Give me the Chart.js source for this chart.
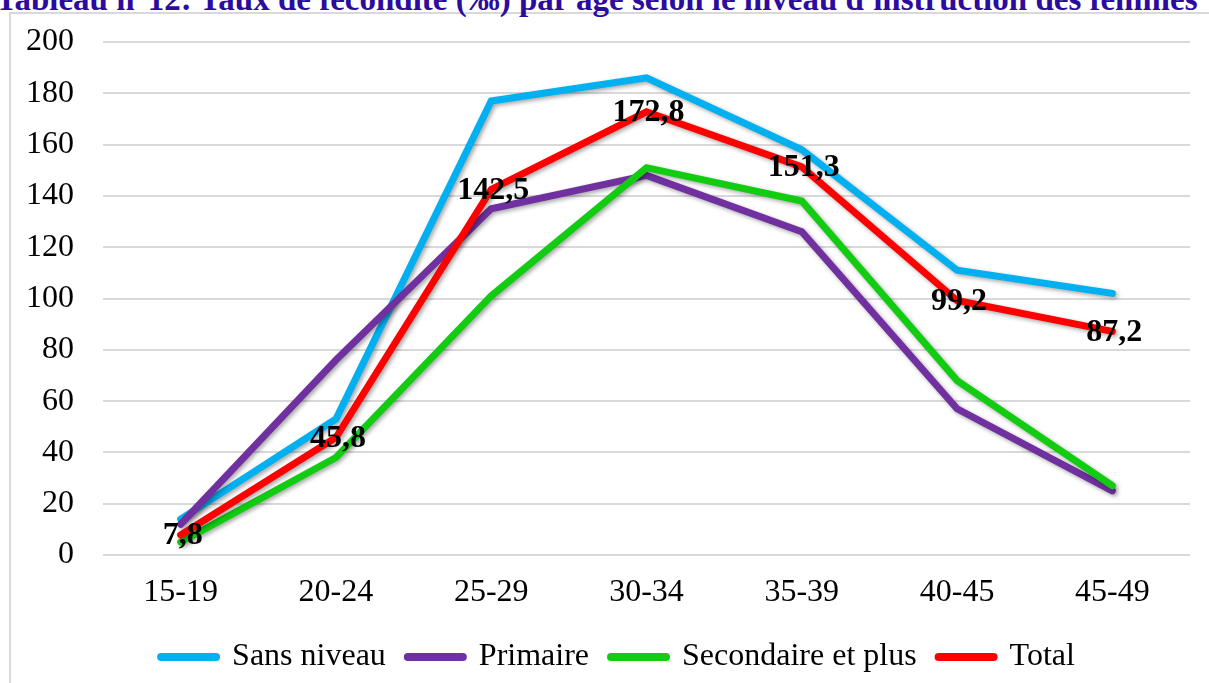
<!DOCTYPE html>
<html><head><meta charset="utf-8">
<script src="https://cdn.jsdelivr.net/npm/chart.js@4.4.1/dist/chart.umd.min.js"></script>
<style>
html,body{margin:0;padding:0;width:1209px;height:683px;overflow:hidden;background:#fff;}
#frame{position:absolute;left:9px;top:12px;width:1230px;height:720px;border:2px solid #D9D9D9;box-sizing:border-box;}
#title{position:absolute;left:-8px;top:-17px;width:1209px;text-align:center;font-family:"Liberation Serif";font-weight:bold;font-size:33px;color:#2B0C9E;white-space:nowrap;line-height:33px;}
#wrap{position:absolute;left:0;top:0;width:1209px;height:683px;}
</style></head><body>
<div id="frame"></div>
<div id="title">Tableau n°12: Taux de fécondité (‰) par âge selon le niveau d'instruction des femmes</div>
<div id="wrap"><canvas id="c"></canvas></div>
<script>
const categories = ['15-19','20-24','25-29','30-34','35-39','40-45','45-49'];
const sansNiveau = [14, 53, 177, 186, 158, 111, 102];
const primaire   = [12, 76, 135, 148, 126, 57, 25];
const secondaire = [5, 38, 101, 151, 138, 68, 27];
const total      = [7.8, 45.8, 142.5, 172.8, 151.3, 99.2, 87.2];
const seriesNames = ['Sans niveau', 'Primaire', 'Secondaire et plus', 'Total'];
const seriesColors = ['#00B0F0', '#7030A0', '#11CC11', '#FF0000'];
const yMin = 0, yMax = 200, yStep = 20;

const FONT = '"Liberation Serif", "Times New Roman", serif';

function ds(i, data){
  return {
    label: seriesNames[i], data: data,
    borderColor: seriesColors[i], backgroundColor: seriesColors[i],
    borderWidth: 7, pointRadius: 0, pointHoverRadius: 0,
    borderCapStyle: 'round', borderJoinStyle: 'miter',
    tension: 0, fill: false, order: 4 - i,
    pointStyle: 'line'
  };
}

const shadowPlugin = {
  id: 'shadow',
  beforeDatasetDraw(chart){
    const ctx = chart.ctx; ctx.save();
    ctx.shadowColor = 'rgba(0,0,0,0.35)'; ctx.shadowBlur = 4;
    ctx.shadowOffsetX = 2; ctx.shadowOffsetY = 2;
  },
  afterDatasetDraw(chart){ chart.ctx.restore(); }
};

const labelPlugin = {
  id: 'totalLabels',
  afterDatasetsDraw(chart){
    const ctx = chart.ctx;
    const idx = chart.data.datasets.findIndex(d => d.label === 'Total');
    const meta = chart.getDatasetMeta(idx);
    ctx.save();
    ctx.font = 'bold 32px ' + FONT;
    ctx.fillStyle = '#000';
    ctx.textAlign = 'center'; ctx.textBaseline = 'middle';
    meta.data.forEach((pt, j) => {
      const v = chart.data.datasets[idx].data[j];
      ctx.fillText(String(v).replace('.', ','), pt.x + 2, pt.y + 1);
    });
    ctx.restore();
  }
};

const legendShift = {
  id: 'legendShift',
  afterLayout(chart){
    if (chart.legend) { chart.legend.left += 23; chart.legend.right += 23; }
  }
};

new Chart(document.getElementById('c'), {
  type: 'line',
  data: {
    labels: categories,
    datasets: [ds(0, sansNiveau), ds(1, primaire), ds(2, secondaire), ds(3, total)]
  },
  plugins: [shadowPlugin, labelPlugin, legendShift],
  options: {
    responsive: true, maintainAspectRatio: false, animation: false,
    layout: { padding: { left: 0, right: 19, top: 42, bottom: 0 } },
    plugins: {
      title: { display: false },
      tooltip: { enabled: false },
      legend: {
        position: 'bottom',
        labels: {
          usePointStyle: true, pointStyle: 'line', pointStyleWidth: 55,
          padding: 22, color: '#000',
          font: { family: FONT, size: 32 },
          sort: (a, b) => a.datasetIndex - b.datasetIndex,
          generateLabels(chart){
            return chart.data.datasets.map((d, i) => ({
              text: d.label, strokeStyle: d.borderColor, fillStyle: d.borderColor,
              lineWidth: 8, lineCap: 'round', pointStyle: 'line', datasetIndex: i, hidden: false
            }));
          }
        }
      }
    },
    scales: {
      x: {
        offset: true,
        grid: { display: false, drawTicks: false, offset: true },
        border: { display: false },
        ticks: { color: '#000', font: { family: FONT, size: 32 }, padding: 18, maxRotation: 0 },
        afterFit(s){ s.height = 64; }
      },
      y: {
        min: yMin, max: yMax,
        grid: { color: '#D9D9D9', lineWidth: 2, drawTicks: false },
        border: { display: false },
        ticks: { stepSize: yStep, color: '#000', font: { family: FONT, size: 32 }, padding: 29 },
        afterFit(s){ s.width = 103; s.paddingTop = 0; s.paddingBottom = 0; }
      }
    }
  }
});
</script>
</body></html>
